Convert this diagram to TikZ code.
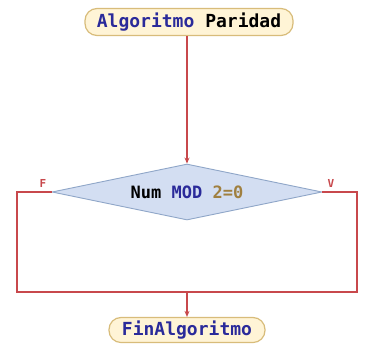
\documentclass[tikz,border=0pt]{standalone}
\usepackage{fontspec}
\setmonofont{DejaVu Sans Mono}
\usetikzlibrary{shapes.geometric,arrows.meta}
\definecolor{lred}{HTML}{C8484C}
\definecolor{termfill}{HTML}{FFF4D6}
\definecolor{termdraw}{HTML}{D8BC7A}
\definecolor{decfill}{HTML}{D3DEF2}
\definecolor{decdraw}{HTML}{8FA6C8}
\definecolor{kwblue}{HTML}{2A2A9A}
\definecolor{numtan}{HTML}{A08040}
\begin{document}
\begin{tikzpicture}[x=1pt,y=1pt,
  term/.style={draw=termdraw,fill=termfill,rounded corners=12pt,line width=1.2pt,
    minimum height=27pt,inner xsep=8pt,font=\ttfamily\bfseries\fontsize{18}{20}\selectfont},
  dec/.style={diamond,draw=decdraw,fill=decfill,line width=0.9pt,aspect=4.8,
    inner sep=0pt,minimum width=270pt,minimum height=56pt,font=\ttfamily\bfseries\fontsize{17}{20}\selectfont},
  conn/.style={draw=lred,line width=1.1pt},
  arr/.style={conn,-{Stealth[length=6pt,width=5pt]}},
  lab/.style={text=lred,font=\ttfamily\bfseries\fontsize{11}{12}\selectfont}]
\useasboundingbox (0,0) rectangle (366,-345);
\fill[white] (0,0) rectangle (366,-345);
\node[term,minimum width=208pt] (start) at (189,-22) {\textcolor{kwblue}{Algoritmo} Paridad};
\node[dec] (d) at (187,-192) {Num \textcolor{kwblue}{MOD} \textcolor{numtan}{2=0}};
\node[term,minimum width=156pt,minimum height=24pt] (end) at (187,-330) {\textcolor{kwblue}{FinAlgoritmo}};
\coordinate (lc) at (17,-192);
\coordinate (lb) at (17,-292);
\coordinate (rc) at (357,-192);
\coordinate (rb) at (357,-292);
\coordinate (m) at (187,-292);
\draw[arr] (start.south -| d.north) -- (d.north);
\draw[conn] (d.west) -- (lc) -- (lb) -- (rb) -- (rc) -- (d.east);
\draw[arr] (m) -- (end.north);
\node[lab] (f) at (43,-183) {F};
\node[lab] (v) at (331,-183) {V};
\end{tikzpicture}
\end{document}
